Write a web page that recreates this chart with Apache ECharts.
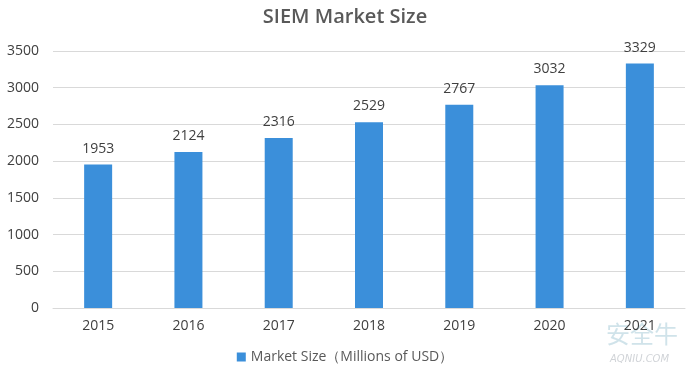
<!DOCTYPE html>
<html><head><meta charset="utf-8">
<script src="https://cdn.jsdelivr.net/npm/echarts@6/dist/echarts.min.js"></script>
<style>html,body{margin:0;padding:0;background:#fff}#c{width:690px;height:377px}</style>
</head><body><div id="c"></div>
<script>
const categories = ['2015','2016','2017','2018','2019','2020','2021'];
const marketSize = [1953, 2124, 2316, 2529, 2767, 3032, 3329];
const seriesName = 'Market Size（Millions of USD）';
const chart = echarts.init(document.getElementById('c'));
const font = '"Open Sans", "Noto Sans", sans-serif';
chart.setOption({
  animation: false,
  title: { text: 'SIEM Market Size', left: 'center', top: 2,
    textStyle: { fontFamily: font, fontSize: 20, fontWeight: 600, color: '#595959' } },
  grid: { left: 53, right: 5, top: 51, bottom: 69 },
  legend: { bottom: 8, left: 'center', itemWidth: 9, itemHeight: 9, icon: 'rect',
    textStyle: { fontFamily: font, fontSize: 14, color: '#595959' }, data: [seriesName] },
  xAxis: { type: 'category', data: categories,
    axisLine: { lineStyle: { color: '#d9d9d9' } }, axisTick: { show: false },
    axisLabel: { fontFamily: font, fontSize: 14, color: '#404040', margin: 11 } },
  yAxis: { type: 'value', min: 0, max: 3500, interval: 500,
    axisLine: { show: false }, axisTick: { show: false },
    splitLine: { lineStyle: { color: '#d9d9d9' } },
    axisLabel: { fontFamily: font, fontSize: 14, color: '#404040', margin: 14, formatter: v => String(v) } },
  series: [{ name: seriesName, type: 'bar', data: marketSize, barWidth: 28,
    itemStyle: { color: '#3b8fda' },
    label: { show: true, position: 'top', distance: 9, fontFamily: font, fontSize: 14, color: '#404040' } }],
  graphic: [
    { type: 'text', left: 606, top: 322, style: { text: '安全牛', font: '24px "Noto Sans CJK SC"', fill: 'rgba(120,175,195,0.35)' } },
    { type: 'text', left: 610, top: 354, style: { text: 'AQNIU.COM', font: 'italic 10px "DejaVu Sans"', fill: 'rgba(120,130,140,0.35)' } }
  ]
});
</script></body></html>
